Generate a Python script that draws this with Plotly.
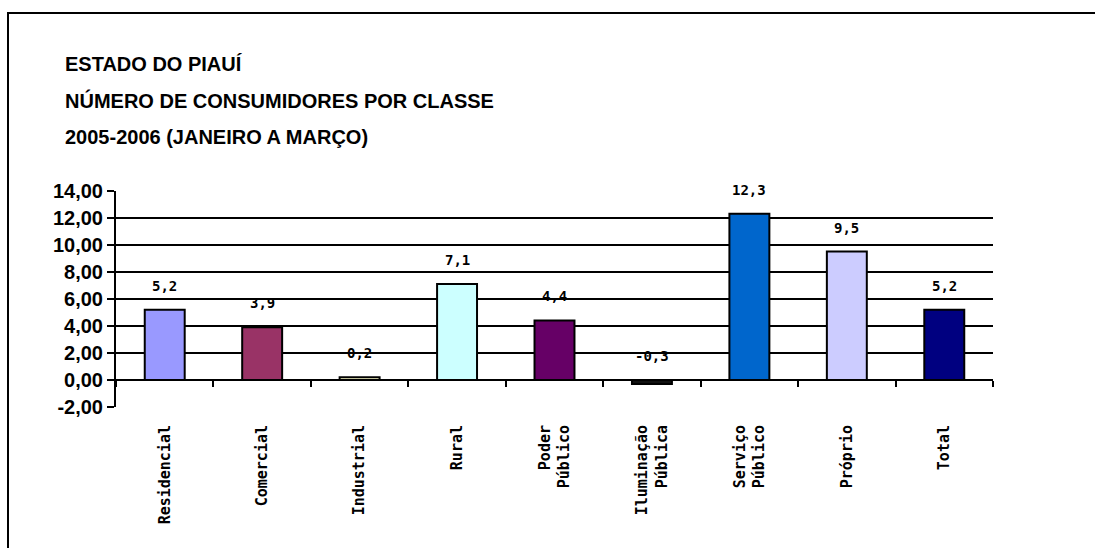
import plotly.graph_objects as go

categories = ["Residencial", "Comercial", "Industrial", "Rural", "Poder<br>Público",
              "Iluminação<br>Pública", "Serviço<br>Público", "Próprio", "Total"]
values = [5.2, 3.9, 0.2, 7.1, 4.4, -0.3, 12.3, 9.5, 5.2]
value_labels = ["5,2", "3,9", "0,2", "7,1", "4,4", "-0,3", "12,3", "9,5", "5,2"]
colors = ["#9999FF", "#993366", "#FFFFCC", "#CCFFFF", "#660066",
          "#111111", "#0066CC", "#CCCCFF", "#000080"]
title_lines = ["ESTADO DO PIAUÍ", "NÚMERO DE CONSUMIDORES POR CLASSE",
               "2005-2006 (JANEIRO A MARÇO)"]
y_tick_values = [-2, 0, 2, 4, 6, 8, 10, 12, 14]
y_tick_labels = ["-2,00", "0,00", "2,00", "4,00", "6,00", "8,00", "10,00", "12,00", "14,00"]
y_min, y_max = -2, 14

W, H = 1095, 548
px = lambda x: x / W
py = lambda y: 1 - y / H

y_dom = [py(407), py(190.7)]
x_dom = [px(116), px(993)]
zero_pos = y_dom[0] + (0 - y_min) / (y_max - y_min) * (y_dom[1] - y_dom[0])

fig = go.Figure()
fig.add_trace(go.Bar(
    x=categories, y=values, marker=dict(color=colors, line=dict(color="black", width=2)),
    xaxis="x", yaxis="y", hoverinfo="skip"))
fig.add_trace(go.Scatter(
    x=categories, y=values, mode="markers", marker=dict(opacity=0),
    xaxis="x2", yaxis="y", hoverinfo="skip"))

annotations = []
for c, v, t in zip(categories, values, value_labels):
    annotations.append(dict(x=c, y=max(v, 0), xref="x", yref="y", text=t, showarrow=False,
                            yanchor="middle", yshift=24,
                            font=dict(family="DejaVu Sans Mono", size=14, color="black",
                                      weight="bold")))
title_y = [64, 100, 137]
for line, yy in zip(title_lines, title_y):
    annotations.append(dict(x=px(63), y=py(yy), xref="paper", yref="paper", text=line,
                            showarrow=False, xanchor="left", yanchor="middle",
                            font=dict(family="Liberation Sans, Arial",
                                      size=20, color="black", weight="bold")))

fig.update_layout(
    width=W, height=H, margin=dict(l=0, r=0, t=0, b=0, autoexpand=False),
    paper_bgcolor="white", plot_bgcolor="white",
    showlegend=False, bargap=0.59,
    annotations=annotations,
    xaxis=dict(domain=x_dom, anchor="y", type="category", showline=False, ticks="",
               showgrid=False, tickangle=-90, ticklabelstandoff=14, automargin=False,
               tickfont=dict(family="DejaVu Sans Mono", size=15, color="black", weight="bold")),
    xaxis2=dict(domain=x_dom, overlaying="x", anchor="free", position=zero_pos,
                type="category", matches="x", showticklabels=False, showgrid=False,
                showline=True, linecolor="black", linewidth=2, ticks="outside",
                tickson="boundaries", ticklen=6, tickwidth=2, tickcolor="black",
                automargin=False),
    yaxis=dict(domain=y_dom, range=[y_min, y_max], tickmode="array",
               tickvals=y_tick_values, ticktext=y_tick_labels,
               showgrid=True, gridcolor="black", gridwidth=2, zeroline=False,
               showline=True, linecolor="black", linewidth=2, ticks="outside",
               ticklen=7, tickwidth=2, tickcolor="black", automargin=False,
               tickfont=dict(family="Liberation Sans, Arial", size=20, color="black",
                             weight="bold")),
    shapes=[dict(type="rect", xref="paper", yref="paper", x0=px(8), x1=1.2, y0=-0.2,
                 y1=py(13), line=dict(color="black", width=2), layer="below")],
)
fig.write_html("out.html")
